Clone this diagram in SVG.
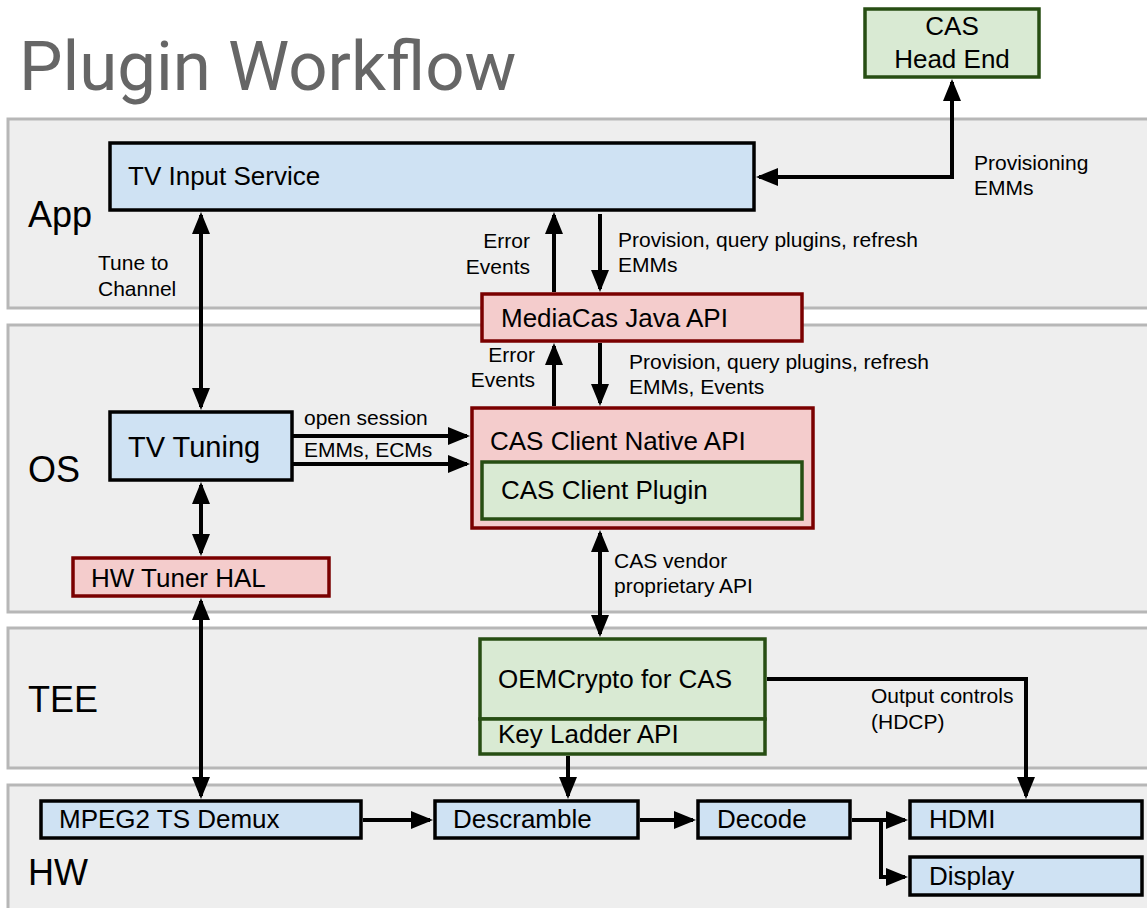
<svg xmlns="http://www.w3.org/2000/svg" width="1147" height="908" viewBox="0 0 1147 908">
<style>
.panel{fill:#eeeeee;stroke:#b7b7b7;stroke-width:3}
.blue{fill:#cfe2f3;stroke:#000;stroke-width:3.5}
.red{fill:#f4cccc;stroke:#7a0000;stroke-width:3.5}
.green{fill:#d9ead3;stroke:#274e13;stroke-width:3.5}
text{font-family:"Liberation Sans",Arial,sans-serif;fill:#000}
.lbl{font-size:26px}
.sm{font-size:21px}
.layer{font-size:36px}
.title{font-family:Roboto,"Liberation Sans",sans-serif;font-size:69px;fill:#666666}
.c{fill:none;stroke:#000;stroke-width:4}
.one{marker-end:url(#ah)}
.two{marker-start:url(#ah);marker-end:url(#ah)}
</style>
<defs>
<marker id="ah" markerUnits="userSpaceOnUse" markerWidth="22" markerHeight="18" viewBox="0 0 22 18" refX="19" refY="9" orient="auto-start-reverse">
<path d="M0,0 L22,9 L0,18 Z" fill="#000"/>
</marker>
</defs>
<rect width="1147" height="908" fill="#fff"/>
<g id="layers">
<rect class="panel" x="8" y="119" width="1160" height="189"/>
<rect class="panel" x="8" y="325" width="1160" height="287"/>
<rect class="panel" x="8" y="628" width="1160" height="140"/>
<rect class="panel" x="8" y="785" width="1160" height="140"/>
<text class="layer" x="28" y="227">App</text>
<text class="layer" x="28" y="482">OS</text>
<text class="layer" x="28" y="712">TEE</text>
<text class="layer" x="28" y="885">HW</text>
</g>
<text class="title" x="19" y="90">Plugin Workflow</text>
<g id="connectors">
<line class="c two" x1="201" y1="215" x2="201" y2="407"/>
<line class="c two" x1="201" y1="485" x2="201" y2="553"/>
<line class="c two" x1="201" y1="601" x2="201" y2="796"/>
<line class="c one" x1="554" y1="292" x2="554" y2="215"/>
<line class="c one" x1="600" y1="214" x2="600" y2="289"/>
<path class="c two" d="M759,177 H952 V82"/>
<line class="c one" x1="554" y1="406" x2="554" y2="346"/>
<line class="c one" x1="600" y1="343" x2="600" y2="403"/>
<line class="c one" x1="293" y1="436" x2="467" y2="436"/>
<line class="c one" x1="293" y1="464" x2="467" y2="464"/>
<line class="c two" x1="600" y1="533" x2="600" y2="634"/>
<line class="c one" x1="568" y1="756" x2="568" y2="796"/>
<path class="c one" d="M767,679 H1026 V796"/>
<line class="c one" x1="363" y1="820" x2="430" y2="820"/>
<line class="c one" x1="640" y1="820" x2="693" y2="820"/>
<line class="c one" x1="852" y1="820" x2="905" y2="820"/>
<path class="c one" d="M881,820 V877 H905"/>
<text class="sm" x="98" y="270">Tune to</text>
<text class="sm" x="98" y="296">Channel</text>
<text class="sm" x="530" y="248" text-anchor="end">Error</text>
<text class="sm" x="530" y="274" text-anchor="end">Events</text>
<text class="sm" x="618" y="247">Provision, query plugins, refresh</text>
<text class="sm" x="618" y="272">EMMs</text>
<text class="sm" x="974" y="170">Provisioning</text>
<text class="sm" x="974" y="195">EMMs</text>
<text class="sm" x="535" y="362" text-anchor="end">Error</text>
<text class="sm" x="535" y="387" text-anchor="end">Events</text>
<text class="sm" x="629" y="369">Provision, query plugins, refresh</text>
<text class="sm" x="629" y="394">EMMs, Events</text>
<text class="sm" x="304" y="425">open session</text>
<text class="sm" x="304" y="457">EMMs, ECMs</text>
<text class="sm" x="614" y="568">CAS vendor</text>
<text class="sm" x="614" y="593">proprietary API</text>
<text class="sm" x="871" y="703">Output controls</text>
<text class="sm" x="871" y="729">(HDCP)</text>
</g>
<g id="cas-head-end">
<rect class="green" x="865" y="9" width="174" height="68"/>
<text class="lbl" x="952" y="35" text-anchor="middle">CAS</text>
<text class="lbl" x="952" y="68" text-anchor="middle">Head End</text>
</g>
<g id="tv-input-service">
<rect class="blue" x="110" y="143" width="644" height="67"/>
<text class="lbl" x="128" y="185">TV Input Service</text>
</g>
<g id="mediacas-java-api">
<rect class="red" x="482" y="294" width="320" height="47"/>
<text class="lbl" x="501" y="327">MediaCas Java API</text>
</g>
<g id="tv-tuning">
<rect class="blue" x="110" y="412" width="182" height="68"/>
<text x="128" y="457" style="font-size:29px">TV Tuning</text>
</g>
<g id="hw-tuner-hal">
<rect class="red" x="73" y="558" width="256" height="38"/>
<text class="lbl" x="91" y="587">HW Tuner HAL</text>
</g>
<g id="cas-client-native-api">
<rect class="red" x="472" y="408" width="341" height="120"/>
<text class="lbl" x="490" y="450">CAS Client Native API</text>
</g>
<g id="cas-client-plugin">
<rect class="green" x="482" y="462" width="320" height="57"/>
<text class="lbl" x="501" y="499">CAS Client Plugin</text>
</g>
<g id="oemcrypto">
<rect class="green" x="480" y="639" width="285" height="80"/>
<text class="lbl" x="498" y="688">OEMCrypto for CAS</text>
</g>
<g id="key-ladder-api">
<rect class="green" x="480" y="719" width="285" height="35"/>
<text class="lbl" x="498" y="743">Key Ladder API</text>
</g>
<g id="mpeg2-ts-demux">
<rect class="blue" x="41" y="801" width="320" height="37"/>
<text class="lbl" x="59" y="828">MPEG2 TS Demux</text>
</g>
<g id="descramble">
<rect class="blue" x="435" y="801" width="203" height="37"/>
<text class="lbl" x="453" y="828">Descramble</text>
</g>
<g id="decode">
<rect class="blue" x="698" y="801" width="152" height="37"/>
<text class="lbl" x="717" y="828">Decode</text>
</g>
<g id="hdmi">
<rect class="blue" x="910" y="801" width="232" height="37"/>
<text class="lbl" x="929" y="828">HDMI</text>
</g>
<g id="display">
<rect class="blue" x="910" y="857" width="232" height="38"/>
<text class="lbl" x="929" y="885">Display</text>
</g>
</svg>
